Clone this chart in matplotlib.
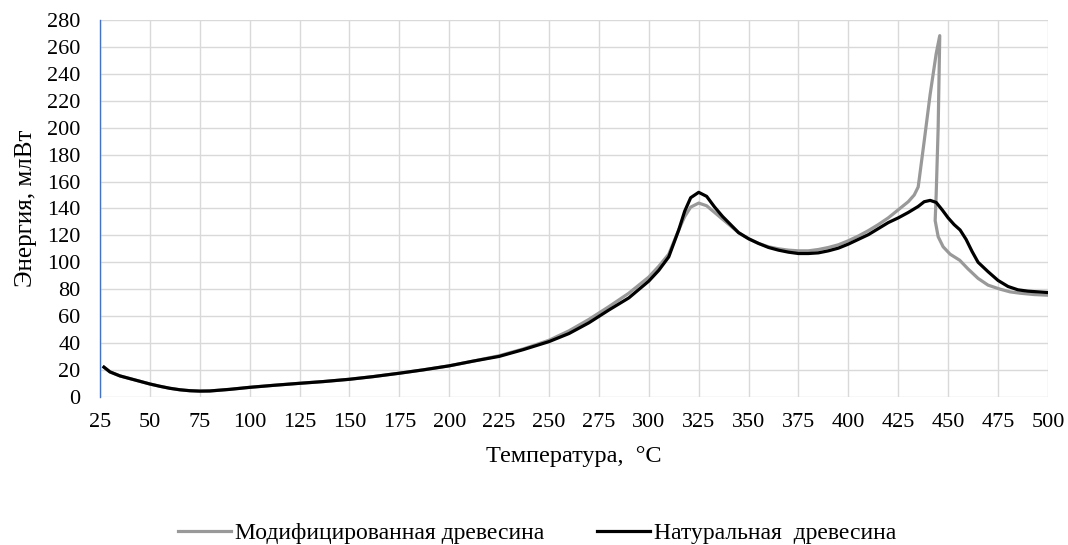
import matplotlib.pyplot as plt

plt.rcParams['font.family'] = ['Liberation Serif', 'DejaVu Serif']

# Natural wood (black curve)
t_nat = [27, 30, 35, 40, 45, 50, 55, 60, 65, 70, 75, 80, 90, 100, 112, 125, 137, 150, 162, 175,
         187, 200, 212, 225, 237, 250, 260, 270, 280, 290, 300, 305, 310, 315, 318, 321, 325, 329,
         333, 337, 341, 345, 350, 355, 360, 365, 370, 375, 380, 385, 390, 395, 400, 405, 410, 415,
         420, 425, 430, 435, 438, 441, 444, 447, 450, 453, 456, 459, 462, 465, 470, 475, 480, 485,
         490, 495, 500]
e_nat = [22, 18.5, 15.5, 13.5, 11.5, 9.5, 7.8, 6.3, 5.2, 4.5, 4.2, 4.3, 5.5, 7, 8.5, 10, 11.3, 13, 15, 17.5,
         20, 23, 26.5, 30, 35, 41, 47, 55, 64.5, 73.5, 86, 94, 104, 124, 138, 148, 152, 149,
         141, 134, 128, 122, 117.5, 114, 111, 109, 107.5, 106.5, 106.5, 107, 108.5, 110.5, 113.5, 117, 120.5, 125,
         129.5, 133, 137, 141.5, 145, 146, 144.5, 139, 133, 128, 124, 117, 108, 100, 93, 86.5, 82, 79.5,
         78.5, 78, 77.5]

# Modified wood (grey curve)
t_mod = [27, 30, 35, 40, 45, 50, 55, 60, 65, 70, 75, 80, 90, 100, 112, 125, 137, 150, 162, 175,
         187, 200, 212, 225, 237, 250, 260, 270, 280, 290, 300, 305, 310, 315, 318, 321, 325, 329,
         333, 337, 341, 345, 350, 355, 360, 365, 370, 375, 380, 385, 390, 395, 400, 405, 410, 415,
         420, 425, 430, 433, 435, 438, 441, 444, 445.8, 445, 444, 443.5, 445, 447.5, 451, 455.8, 460,
         465, 470, 476, 481, 486, 493, 500]
e_mod = [22, 18.5, 15.5, 13.5, 11.5, 9.5, 7.8, 6.3, 5.2, 4.5, 4.2, 4.3, 5.5, 7, 8.5, 10, 11.3, 13, 15, 17.5,
         20, 23, 26.5, 30.5, 35.5, 42, 49, 57.5, 67, 77, 89, 97, 106, 124, 134, 141, 144, 142,
         137, 132, 127, 122, 117.5, 114, 111.5, 110, 109, 108.5, 108.5, 109.5, 111, 113, 116, 119.5, 123.5, 128,
         133, 139, 145, 150, 156, 190, 225, 255, 268.5, 200, 150, 131, 119, 111.5, 106, 101.5, 95,
         88, 83, 80, 78, 77, 76, 75.5]

x_ticks = list(range(25, 501, 25))
y_ticks = list(range(0, 281, 20))

fig = plt.figure(figsize=(10.68, 5.45), dpi=100)
ax = fig.add_axes([0.0936, 0.272, 0.8876, 0.691])

ax.plot(t_mod, e_mod, color='#999999', lw=2.3, label='Модифицированная древесина')
ax.plot(t_nat, e_nat, color='black', lw=2.3, label='Натуральная  древесина')

ax.set_xlim(25, 500)
ax.set_ylim(0, 280)
ax.set_xticks(x_ticks)
ax.set_yticks(y_ticks)
ax.grid(True, color='#d9d9d9', lw=1)
ax.set_axisbelow(True)
ax.tick_params(length=0, labelsize=16)
ax.tick_params(axis='y', pad=14)
ax.tick_params(axis='x', pad=12)

for s in ['top', 'right', 'bottom']:
    ax.spines[s].set_visible(False)
ax.spines['left'].set_color('#4472c4')
ax.spines['left'].set_linewidth(1)

ax.set_ylabel('Энергия, млВт', fontsize=18)
ax.yaxis.set_label_coords(-0.066, 0.5)
ax.set_xlabel('Температура,  °C', fontsize=17.5, labelpad=10)

fig.legend(loc='center', bbox_to_anchor=(537 / 1068, 1 - 533 / 545), ncol=2, frameon=False,
           fontsize=17, handlelength=2.25, handletextpad=0.17, columnspacing=2.25)

fig.savefig('out.png', dpi=100)
